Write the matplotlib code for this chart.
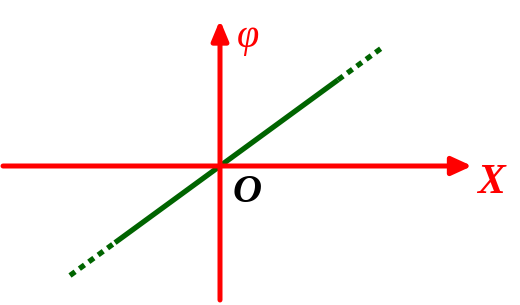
import numpy as np
import matplotlib
matplotlib.use("Agg")
import matplotlib.pyplot as plt

# axis extents (pixel-ish units, origin at the crossing)
x_axis = [-217, 252]
y_axis = [-134, 146]
# line phi = k * X
k = 0.73
solid_x = [-105, 118]
dotted_left = [-150, -105]
dotted_right = [118, 162]

fig = plt.figure(figsize=(5.2, 3.05), dpi=100)
ax = fig.add_axes([0, 0, 1, 1])
ax.set_xlim(-220, 300)
ax.set_ylim(-139, 166)
ax.axis('off')

red = '#ff0000'
green = '#006400'

ax.annotate('', xy=(x_axis[1], 0), xytext=(x_axis[0], 0),
            arrowprops=dict(arrowstyle='-|>,head_length=1.2,head_width=0.55',
                            color=red, lw=3.6, shrinkA=0, shrinkB=0))
ax.annotate('', xy=(0, y_axis[1]), xytext=(0, y_axis[0]),
            arrowprops=dict(arrowstyle='-|>,head_length=1.2,head_width=0.5',
                            color=red, lw=3.6, shrinkA=0, shrinkB=0))

xs = np.array(solid_x)
ax.plot(xs, k * xs, color=green, lw=3.8, solid_capstyle='butt')
for seg in (dotted_left, dotted_right):
    xs = np.array(seg)
    ax.plot(xs, k * xs, color=green, lw=3.8, linestyle=(0, (1.2, 1.0)),
            dash_capstyle='butt')

ax.text(28, 128, 'φ', color=red, fontsize=29, fontstyle='italic',
        family='Liberation Serif', ha='center', va='center')
ax.text(271, -17, 'X', color=red, fontsize=30, fontstyle='italic',
        fontweight='bold', family='Liberation Serif', ha='center', va='center')
ax.text(27, -26, 'O', color='black', fontsize=29, fontstyle='italic',
        fontweight='bold', family='Liberation Serif', ha='center', va='center')

fig.savefig('out.png', dpi=100)
